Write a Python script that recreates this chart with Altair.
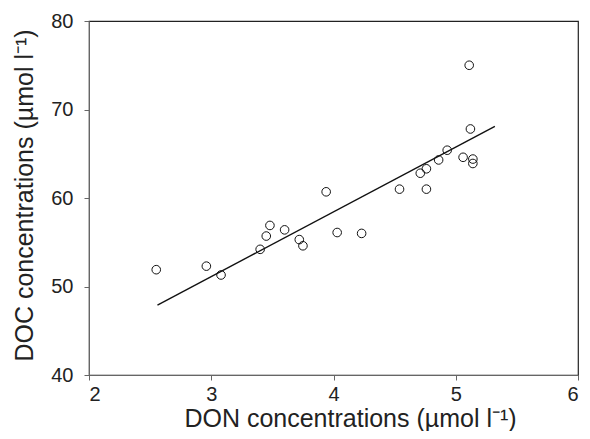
import altair as alt
import pandas as pd

don = [2.55, 2.96, 3.08, 3.40, 3.45, 3.48, 3.60, 3.72, 3.75, 3.94, 4.03, 4.23,
       4.54, 4.71, 4.76, 4.76, 4.86, 4.93, 5.06, 5.11, 5.12, 5.14, 5.14]
doc = [51.9, 52.3, 51.3, 54.2, 55.7, 56.9, 56.4, 55.3, 54.6, 60.7, 56.1, 56.0,
       61.0, 62.8, 63.3, 61.0, 64.3, 65.4, 64.6, 75.0, 67.8, 64.4, 63.9]

fit_x = [2.56, 5.32]
fit_y = [47.9, 68.1]

x_ticks = [2, 3, 4, 5, 6]
y_ticks = [40, 50, 60, 70, 80]

pts = pd.DataFrame({"DON": don, "DOC": doc})
fit = pd.DataFrame({"DON": fit_x, "DOC": fit_y})

FONT = "Liberation Sans"

xs = alt.X("DON:Q", scale=alt.Scale(domain=[2, 6], nice=False, zero=False),
           axis=alt.Axis(values=x_ticks, title="DON concentrations (µmol l⁻¹)",
                         titleX=261, titleY=51, titleAlign="center",
                         titleBaseline="alphabetic", labelPadding=4))
ys = alt.Y("DOC:Q", scale=alt.Scale(domain=[40, 80], nice=False, zero=False),
           axis=alt.Axis(values=y_ticks, title="DOC concentrations (µmol l⁻¹)",
                         titleX=-65, titleY=174, titleAngle=-90, titleAlign="center",
                         titleBaseline="middle", labelPadding=11))

line = alt.Chart(fit).mark_line(color="#111", strokeWidth=1.4).encode(x=xs, y=ys)
points = alt.Chart(pts).mark_point(shape="circle", filled=False, color="#111",
                                   size=74, strokeWidth=1, opacity=1).encode(x=xs, y=ys)

chart = (line + points).properties(
    width=489, height=354,
    padding={"left": 81, "top": 13, "right": 4, "bottom": 56},
    autosize=alt.AutoSizeParams(type="none"),
).configure_view(stroke="#222", strokeWidth=1.2).configure_axis(
    grid=False, domainColor="#666", tickColor="#666", tickSize=5,
    labelFont=FONT, labelFontSize=20, labelColor="#222",
    titleFont=FONT, titleFontSize=25, titleColor="#222", titleFontWeight="normal",
)

chart.save("out.html", embed_options={"renderer": "svg", "actions": False})
